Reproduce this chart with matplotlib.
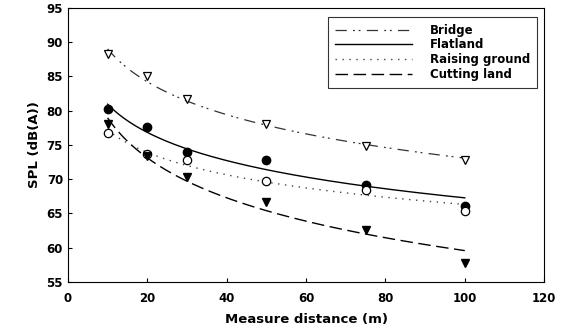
import numpy as np
import matplotlib
matplotlib.use("Agg")
import matplotlib.pyplot as plt

plt.rcParams['font.family'] = ['DejaVu Sans']

distance = [10, 20, 30, 50, 75, 100]
bridge = [88.3, 85.0, 81.7, 78.1, 74.8, 72.8]
flatland = [80.2, 77.6, 74.0, 72.8, 69.2, 66.1]
raising = [76.8, 73.7, 72.8, 69.7, 68.4, 65.3]
cutting = [78.0, 73.4, 70.3, 66.7, 62.6, 57.8]
names = ["Bridge", "Flatland", "Raising ground", "Cutting land"]

fig = plt.figure(figsize=(5.61, 3.31), dpi=100)
ax = fig.add_axes([0.121, 0.148, 0.849, 0.828])

x = np.array(distance, dtype=float)
xs = np.linspace(10, 100, 200)

def fit(vals):
    b, a = np.polyfit(np.log(x), np.array(vals), 1)
    return a + b * np.log(xs)

styles = [
    dict(ls=(0, (9, 5, 1.5, 3, 1.5, 5)), lw=0.9, color='#333333'),
    dict(ls='-', lw=1.0, color='black'),
    dict(ls=(0, (1, 4)), lw=1.0, color='#444444'),
    dict(ls=(0, (9, 4)), lw=1.0, color='black'),
]
markers = [
    dict(marker='v', mfc='white', mec='black', ms=6, mew=0.9),
    dict(marker='o', mfc='black', mec='black', ms=6),
    dict(marker='o', mfc='white', mec='black', ms=6, mew=0.9),
    dict(marker='v', mfc='black', mec='black', ms=6),
]
series = [bridge, flatland, raising, cutting]
for name, vals, st, mk in zip(names, series, styles, markers):
    ax.plot(xs, fit(vals), label=name, **st)
    ax.plot(distance, vals, ls='none', zorder=3, **mk)

ax.set_xlim(0, 120)
ax.set_ylim(55, 95)
ax.set_xticks(range(0, 121, 20))
ax.set_yticks(range(55, 96, 5))
ax.tick_params(direction='in', length=3, labelsize=8.5)
ax.tick_params(axis='x', pad=7)
for lab in ax.get_xticklabels() + ax.get_yticklabels():
    lab.set_fontweight('bold')
ax.set_xlabel("Measure distance (m)", fontsize=9.5, fontweight='bold', labelpad=6)
ax.set_ylabel("SPL (dB(A))", fontsize=9.5, fontweight='bold')

leg = ax.legend(loc='upper right', bbox_to_anchor=(0.997, 0.99), frameon=True,
                fancybox=False, edgecolor='black', handlelength=6.5,
                handletextpad=1.5,
                prop={'weight': 'bold', 'size': 8.5}, borderpad=0.6,
                labelspacing=0.15)
leg.get_frame().set_linewidth(0.8)

fig.savefig("out.png", dpi=100)
